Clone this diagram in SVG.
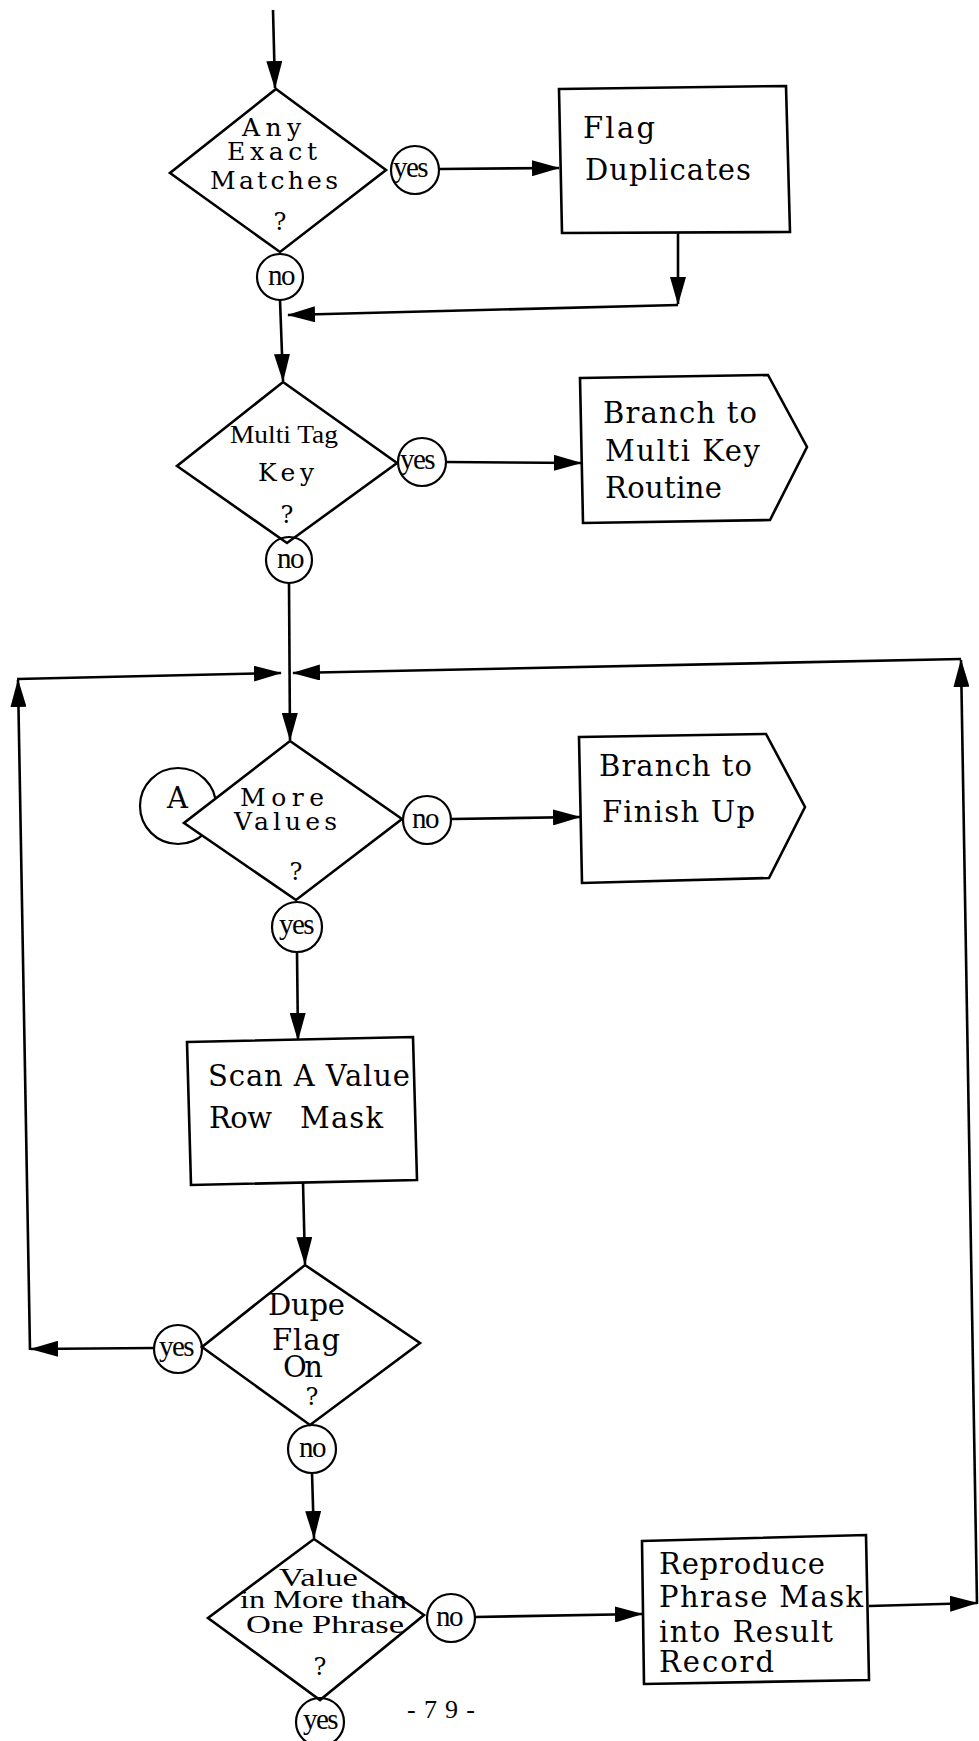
<svg xmlns="http://www.w3.org/2000/svg" width="979" height="1741" viewBox="0 0 979 1741">
<style>
.shape{fill:#fff;stroke:#000;stroke-width:2.6;stroke-linejoin:miter}
.lbl{fill:none;stroke:#000;stroke-width:2.2}
.conn{fill:none;stroke:#000;stroke-width:2.6}
.t{font-family:"DejaVu Serif","Liberation Serif",serif;font-size:29px;fill:#000}
.ts{font-family:"DejaVu Serif","Liberation Serif",serif;font-size:25px;fill:#000}
.tr{font-family:"Liberation Serif","Times New Roman",serif;font-size:26px;fill:#000}
.yn{font-family:"Liberation Serif","Times New Roman",serif;font-size:29px;fill:#000;text-anchor:middle;letter-spacing:-1.5px}
.q{font-family:"DejaVu Serif","Liberation Serif",serif;font-size:24px;fill:#000;text-anchor:middle}
</style>
<defs>
<marker id="ah" markerUnits="userSpaceOnUse" markerWidth="28" markerHeight="16" viewBox="0 0 28 16" refX="27" refY="8" orient="auto">
<path d="M0,0 L28,8 L0,16 z" fill="#000"/>
</marker>
</defs>
<rect width="979" height="1741" fill="#fff"/>

<g id="connectors">
<line class="conn" x1="273" y1="10" x2="275" y2="88" marker-end="url(#ah)"/>
<line class="conn" x1="439" y1="169" x2="559" y2="168" marker-end="url(#ah)"/>
<line class="conn" x1="678" y1="233" x2="678" y2="304" marker-end="url(#ah)"/>
<line class="conn" x1="678" y1="305" x2="288" y2="315" marker-end="url(#ah)"/>
<line class="conn" x1="280" y1="300" x2="283" y2="381" marker-end="url(#ah)"/>
<line class="conn" x1="446" y1="462" x2="581" y2="463" marker-end="url(#ah)"/>
<line class="conn" x1="289" y1="583" x2="290" y2="740" marker-end="url(#ah)"/>
<line class="conn" x1="451" y1="819" x2="580" y2="817" marker-end="url(#ah)"/>
<line class="conn" x1="297" y1="952" x2="298" y2="1040" marker-end="url(#ah)"/>
<line class="conn" x1="303" y1="1182" x2="305" y2="1264" marker-end="url(#ah)"/>
<line class="conn" x1="312" y1="1473" x2="314" y2="1538" marker-end="url(#ah)"/>
<line class="conn" x1="475" y1="1617" x2="642" y2="1614" marker-end="url(#ah)"/>
<line class="conn" x1="154" y1="1348" x2="31" y2="1349" marker-end="url(#ah)"/>
<line class="conn" x1="30" y1="1350" x2="18" y2="680" marker-end="url(#ah)"/>
<line class="conn" x1="17" y1="679" x2="281" y2="673" marker-end="url(#ah)"/>
<line class="conn" x1="869" y1="1606" x2="977" y2="1603" marker-end="url(#ah)"/>
<line class="conn" x1="977" y1="1604" x2="961" y2="660" marker-end="url(#ah)"/>
<line class="conn" x1="961" y1="659" x2="293" y2="673" marker-end="url(#ah)"/>
</g>

<g id="any-exact-matches">
<polygon class="shape" points="276,89 386,170 280,252 170,173"/>
<text class="ts" x="242" y="136" textLength="59" lengthAdjust="spacing">Any</text>
<text class="ts" x="227" y="160" textLength="90" lengthAdjust="spacing">Exact</text>
<text class="ts" x="210" y="189" textLength="128" lengthAdjust="spacing">Matches</text>
<text class="q" x="280" y="230">?</text>
</g>
<g id="yes1"><circle class="lbl" cx="415" cy="170" r="24"/><text class="yn" x="410" y="177">yes</text></g>
<g id="no1"><circle class="lbl" cx="280" cy="277" r="23"/><text class="yn" x="281" y="285">no</text></g>

<g id="flag-duplicates">
<polygon class="shape" points="559,89 786,86 790,232 562,233"/>
<text class="t" x="583" y="138" textLength="72" lengthAdjust="spacing">Flag</text>
<text class="t" x="585" y="180" textLength="166" lengthAdjust="spacing">Duplicates</text>
</g>

<g id="multi-tag-key">
<polygon class="shape" points="283,382 397,463 287,543 177,466"/>
<text class="tr" x="230" y="443" textLength="108" lengthAdjust="spacingAndGlyphs">Multi Tag</text>
<text class="ts" x="258" y="481" textLength="56" lengthAdjust="spacing">Key</text>
<text class="q" x="287" y="523">?</text>
</g>
<g id="yes2"><circle class="lbl" cx="422" cy="462" r="24"/><text class="yn" x="417" y="469">yes</text></g>
<g id="no2"><circle class="lbl" cx="289" cy="560" r="23"/><text class="yn" x="290" y="568">no</text></g>

<g id="branch-multi-key">
<polygon class="shape" points="580,378 768,375 807,447 770,520 583,523"/>
<text class="t" x="603" y="423" textLength="154" lengthAdjust="spacing">Branch to</text>
<text class="t" x="605" y="461" textLength="155" lengthAdjust="spacing">Multi Key</text>
<text class="t" x="605" y="498" textLength="117" lengthAdjust="spacing">Routine</text>
</g>

<g id="more-values">
<circle class="lbl" cx="178" cy="806" r="38"/>
<text class="t" x="167" y="808" textLength="26" lengthAdjust="spacing">A</text>
<polygon class="shape" points="290,741 402,819 296,900 184,823"/>
<text class="ts" x="240" y="806" textLength="84" lengthAdjust="spacing">More</text>
<text class="ts" x="234" y="830" textLength="103" lengthAdjust="spacing">Values</text>
<text class="q" x="296" y="880">?</text>
</g>
<g id="no3"><circle class="lbl" cx="427" cy="820" r="24"/><text class="yn" x="425" y="828">no</text></g>
<g id="yes3"><circle class="lbl" cx="297" cy="927" r="25"/><text class="yn" x="296" y="934">yes</text></g>

<g id="branch-finish-up">
<polygon class="shape" points="579,737 766,734 805,807 769,878 582,883"/>
<text class="t" x="599" y="776" textLength="153" lengthAdjust="spacing">Branch to</text>
<text class="t" x="602" y="822" textLength="153" lengthAdjust="spacing">Finish Up</text>
</g>

<g id="scan-value-row-mask">
<polygon class="shape" points="187,1042 413,1037 417,1180 191,1185"/>
<text class="t" x="208" y="1086" textLength="202" lengthAdjust="spacing">Scan A Value</text>
<text class="t" x="209" y="1128" textLength="63" lengthAdjust="spacing">Row</text>
<text class="t" x="300" y="1128" textLength="83" lengthAdjust="spacing">Mask</text>
</g>

<g id="dupe-flag-on">
<polygon class="shape" points="305,1265 420,1343 310,1425 202,1347"/>
<text class="t" x="268" y="1315" textLength="77" lengthAdjust="spacing">Dupe</text>
<text class="t" x="272" y="1350" textLength="68" lengthAdjust="spacing">Flag</text>
<text class="t" x="283" y="1377" textLength="40" lengthAdjust="spacing">On</text>
<text class="q" x="312" y="1405">?</text>
</g>
<g id="yes4"><circle class="lbl" cx="178" cy="1349" r="24"/><text class="yn" x="176" y="1356">yes</text></g>
<g id="no4"><circle class="lbl" cx="312" cy="1449" r="24"/><text class="yn" x="312" y="1457">no</text></g>

<g id="value-more-than-one-phrase">
<polygon class="shape" points="314,1539 424,1615 320,1700 208,1618"/>
<text class="tr" x="279" y="1586" textLength="79" lengthAdjust="spacingAndGlyphs">Value</text>
<text class="tr" x="240" y="1608" textLength="167" lengthAdjust="spacingAndGlyphs">in More than</text>
<text class="tr" x="246" y="1633" textLength="158" lengthAdjust="spacingAndGlyphs">One Phrase</text>
<text class="q" x="320" y="1675">?</text>
</g>
<g id="no5"><circle class="lbl" cx="451" cy="1618" r="24"/><text class="yn" x="449" y="1626">no</text></g>
<g id="yes5"><circle class="lbl" cx="320" cy="1722" r="24"/><text class="yn" x="320" y="1729">yes</text></g>

<g id="reproduce-phrase-mask">
<polygon class="shape" points="642,1541 866,1535 869,1680 644,1684"/>
<text class="t" x="659" y="1574" textLength="166" lengthAdjust="spacing">Reproduce</text>
<text class="t" x="659" y="1607" textLength="204" lengthAdjust="spacing">Phrase Mask</text>
<text class="t" x="659" y="1642" textLength="174" lengthAdjust="spacing">into Result</text>
<text class="t" x="659" y="1672" textLength="115" lengthAdjust="spacing">Record</text>
</g>

<g id="page-number">
<text class="tr" x="407" y="1718" font-size="24" textLength="68" lengthAdjust="spacing">-79-</text>
</g>
</svg>
